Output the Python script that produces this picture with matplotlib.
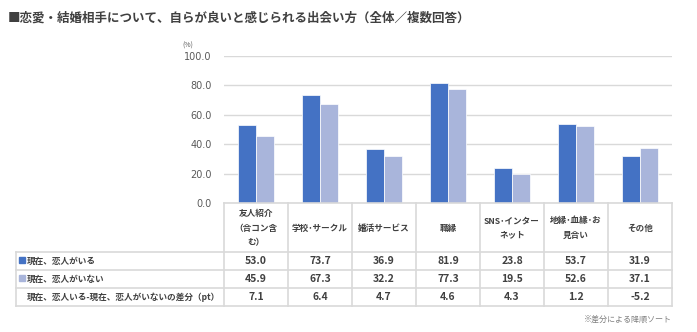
import numpy as np
import matplotlib
matplotlib.use("Agg")
import matplotlib.pyplot as plt
from matplotlib.lines import Line2D

plt.rcParams["font.family"] = ["Noto Sans CJK JP", "DejaVu Sans"]

categories = ["友人紹介\n（合コン含\nむ）", "学校･サークル", "婚活サービス", "職縁",
              "SNS･インター\nネット", "地縁･血縁･お\n見合い", "その他"]
with_partner = [53.0, 73.7, 36.9, 81.9, 23.8, 53.7, 31.9]
without_partner = [45.9, 67.3, 32.2, 77.3, 19.5, 52.6, 37.1]
diff_pt = [7.1, 6.4, 4.7, 4.6, 4.3, 1.2, -5.2]
row_labels = ["現在、恋人がいる", "現在、恋人がいない",
              "現在、恋人いる-現在、恋人がいないの差分（pt）"]
yticks = [0, 20, 40, 60, 80, 100]

C_DARK = "#4472C4"
C_LIGHT = "#A9B5DB"
TXT = "#404040"
GRID = "#D9D9D9"

W, H = 697, 332
fig = plt.figure(figsize=(W / 100, H / 100), dpi=100)

# plot area in pixel coords
x0, x1 = 224, 672
ytop, ybot = 56, 203
ax = fig.add_axes([x0 / W, (H - ybot) / H, (x1 - x0) / W, (ybot - ytop) / H])
n = len(categories)
idx = np.arange(n)
bw = 0.28
ax.bar(idx - bw / 2, with_partner, bw, color=C_DARK, edgecolor="white", linewidth=0.5, zorder=3)
ax.bar(idx + bw / 2, without_partner, bw, color=C_LIGHT, edgecolor="white", linewidth=0.5, zorder=3)
ax.set_xlim(-0.5, n - 0.5)
ax.set_ylim(0, 100)
ax.set_yticks(yticks)
ax.set_yticklabels([f"{v:.1f}" for v in yticks], fontsize=7, color="#595959",
                   family="DejaVu Sans")
ax.tick_params(axis="y", length=0, pad=9)
ax.set_xticks([])
ax.grid(axis="y", color=GRID, linewidth=1, zorder=0)
for s in ax.spines.values():
    s.set_visible(False)

# overlay in pixel coordinates for table and text
ov = fig.add_axes([0, 0, 1, 1], zorder=5)
ov.set_xlim(0, W)
ov.set_ylim(H, 0)
ov.axis("off")
ov.patch.set_alpha(0)

def line(xs, ys):
    ov.add_line(Line2D(xs, ys, color=GRID, linewidth=1.2))

col_w = (x1 - x0) / n
rows_y = [203, 252, 270, 288, 306]
tab_left = 16

# horizontal table lines
line([x0, x1], [203, 203])
for y in rows_y[1:]:
    line([tab_left, x1], [y, y])
# vertical table lines
for i in range(n + 1):
    line([x0 + i * col_w] * 2, [203, 306])
line([tab_left, tab_left], [252, 306])

# header cells
for i, c in enumerate(categories):
    ov.text(x0 + (i + 0.5) * col_w, 228, c, ha="center", va="center", fontsize=6.2,
            fontweight="bold", color=TXT, linespacing=1.75)

# value rows
for r, vals in enumerate([with_partner, without_partner, diff_pt]):
    yc = (rows_y[r + 1] + rows_y[r + 2]) / 2
    for i, v in enumerate(vals):
        ov.text(x0 + (i + 0.5) * col_w, yc + 0.5, f"{v:.1f}", ha="center", va="center",
                fontsize=7.5, fontweight="bold", color=TXT)
    ov.text(27, yc, row_labels[r], ha="left", va="center", fontsize=6.2,
            fontweight="bold", color=TXT)

# legend keys
for r, col in enumerate([C_DARK, C_LIGHT]):
    ov.add_patch(plt.Rectangle((18.5, rows_y[r + 1] + 4.5), 6, 6, color=col))

ov.text(8, 18, "■恋愛・結婚相手について、自らが良いと感じられる出会い方（全体／複数回答）",
        ha="left", va="center", fontsize=9, fontweight="bold", color=TXT)
ov.text(188, 46, "(%)", ha="center", va="center", fontsize=5, color="#595959")
ov.text(672, 319, "※差分による降順ソート", ha="right", va="center", fontsize=5.8,
        color="#7F7F7F")

fig.savefig("out.png", dpi=100)
